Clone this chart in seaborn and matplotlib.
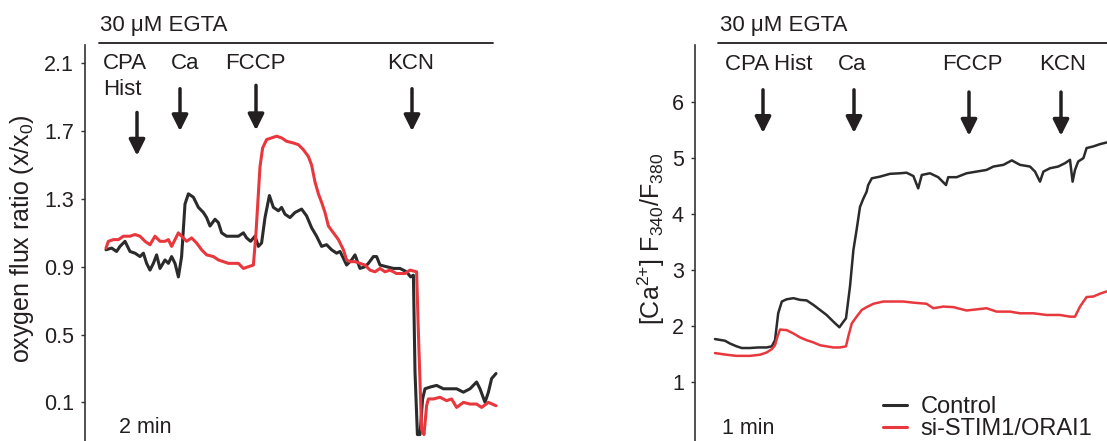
import numpy as np
import pandas as pd
import matplotlib
matplotlib.use("Agg")
import matplotlib.pyplot as plt
import seaborn as sns
from matplotlib.lines import Line2D

# ---------------- data ----------------
# Left panel: oxygen flux ratio (x/x0) vs time (min)
ox_ctrl_t = [0.00, 0.28, 0.53, 0.70, 0.95, 1.20, 1.45, 1.70, 1.87, 2.03, 2.20, 2.37, 2.53, 2.70,
             2.95, 3.12, 3.28, 3.45, 3.62, 3.78, 3.95, 4.12, 4.37, 4.62, 4.87, 5.03, 5.20, 5.45,
             5.62, 5.78, 6.03, 6.37, 6.62, 6.87, 7.03, 7.23, 7.45, 7.62, 7.78, 7.95, 8.17, 8.37,
             8.62, 8.78, 8.95, 9.20, 9.45, 9.78, 10.03, 10.28, 10.53, 10.78, 11.03, 11.28, 11.53,
             11.70, 11.87, 12.03, 12.28, 12.45, 12.70, 12.95, 13.12, 13.37, 13.53, 13.70, 14.03,
             14.37, 14.70, 15.03, 15.23, 15.37, 15.45, 15.57, 15.70, 15.83, 15.95, 16.20, 16.53,
             16.87, 17.20, 17.53, 17.87, 18.20, 18.53, 18.70, 18.95, 19.12, 19.28, 19.50]
ox_ctrl_v = [1.00, 1.01, 0.99, 1.02, 1.05, 0.99, 0.98, 0.96, 0.98, 0.92, 0.88, 0.92, 0.97, 0.89,
             0.94, 0.92, 0.96, 0.92, 0.84, 0.96, 1.27, 1.33, 1.31, 1.25, 1.22, 1.19, 1.14, 1.18,
             1.16, 1.10, 1.08, 1.08, 1.08, 1.10, 1.07, 1.05, 1.08, 1.02, 1.04, 1.19, 1.32, 1.25,
             1.23, 1.25, 1.21, 1.19, 1.22, 1.24, 1.20, 1.13, 1.08, 1.02, 1.03, 1.00, 0.98,
             0.99, 0.95, 0.91, 0.94, 0.97, 0.89, 0.90, 0.92, 0.96, 0.96, 0.91, 0.90,
             0.89, 0.89, 0.87, 0.84, 0.85, 0.28, -0.09, -0.09, 0.12, 0.18, 0.19, 0.20,
             0.18, 0.18, 0.18, 0.16, 0.18, 0.22, 0.18, 0.10, 0.16, 0.24, 0.27]

ox_si_t = [0.00, 0.12, 0.37, 0.62, 0.87, 1.20, 1.45, 1.70, 1.95, 2.20, 2.45, 2.70, 2.95, 3.12,
           3.28, 3.45, 3.62, 3.78, 4.03, 4.28, 4.53, 4.78, 5.03, 5.37, 5.62, 5.87, 6.12, 6.37,
           6.62, 6.87, 7.12, 7.37, 7.50, 7.70, 7.83, 8.03, 8.28, 8.53, 8.78, 9.03, 9.37, 9.62,
           9.87, 10.12, 10.28, 10.45, 10.62, 10.78, 10.95, 11.12, 11.37, 11.62, 11.87, 12.03,
           12.20, 12.45, 12.70, 12.95, 13.20, 13.45, 13.70, 13.95, 14.20, 14.53, 14.95, 15.20,
           15.53, 15.62, 15.78, 15.90, 16.03, 16.12, 16.37, 16.70, 17.03, 17.28, 17.53, 17.87,
           18.20, 18.53, 18.78, 19.12, 19.50]
ox_si_v = [1.01, 1.05, 1.06, 1.06, 1.08, 1.08, 1.09, 1.08, 1.05, 1.03, 1.08, 1.05, 1.05, 1.06,
           1.02, 1.06, 1.10, 1.08, 1.05, 1.07, 1.04, 1.00, 0.97, 0.96, 0.94, 0.93, 0.92, 0.92,
           0.92, 0.89, 0.90, 0.91, 1.10, 1.49, 1.60, 1.65, 1.66, 1.67, 1.66, 1.64, 1.63, 1.62,
           1.59, 1.55, 1.50, 1.40, 1.33, 1.28, 1.22, 1.14, 1.10, 1.06, 1.00, 0.94,
           0.93, 0.93, 0.92, 0.91, 0.88, 0.87, 0.89, 0.87, 0.88, 0.86, 0.86, 0.88,
           0.87, 0.51, -0.06, -0.09, 0.08, 0.12, 0.12, 0.13, 0.11, 0.12, 0.07, 0.10,
           0.09, 0.09, 0.07, 0.10, 0.08]

# Right panel: [Ca2+] F340/F380 vs time (min)
ca_ctrl_t = [0.00, 0.25, 0.375, 0.54, 0.67, 0.875, 1.08, 1.29, 1.42, 1.50, 1.58, 1.67, 1.79,
             1.96, 2.125, 2.29, 2.46, 2.625, 2.79, 2.96, 3.11, 3.21, 3.275, 3.375, 3.46, 3.54,
             3.625, 3.71, 3.79, 3.83, 3.92, 4.125, 4.375, 4.625, 4.79, 4.96, 5.08, 5.17,
             5.375, 5.58, 5.775, 5.83, 6.04, 6.29, 6.54, 6.79, 6.96, 7.21, 7.42, 7.625,
             7.875, 8.00, 8.125, 8.21, 8.375, 8.58, 8.75, 8.875, 8.94, 9.00, 9.08, 9.21,
             9.29, 9.46, 9.625, 9.79]
ca_ctrl_v = [1.76, 1.73, 1.68, 1.63, 1.60, 1.60, 1.61, 1.61, 1.63, 1.74, 2.22, 2.43, 2.47,
             2.49, 2.46, 2.45, 2.37, 2.28, 2.19, 2.07, 1.97, 2.07, 2.13, 2.70, 3.35, 3.71,
             4.12, 4.27, 4.39, 4.51, 4.63, 4.66, 4.71, 4.72, 4.73, 4.67, 4.45, 4.69,
             4.72, 4.65, 4.51, 4.65, 4.65, 4.72, 4.75, 4.78, 4.84, 4.87, 4.95, 4.87,
             4.84, 4.75, 4.57, 4.75, 4.81, 4.84, 4.90, 4.96, 4.57, 4.78, 4.93, 4.99,
             5.17, 5.20, 5.24, 5.27]

ca_si_t = [0.00, 0.29, 0.54, 0.875, 1.125, 1.29, 1.42, 1.50, 1.56, 1.625, 1.79, 1.96, 2.125,
           2.29, 2.46, 2.625, 2.79, 2.96, 3.125, 3.275, 3.33, 3.42, 3.54, 3.67, 3.79, 3.96,
           4.21, 4.46, 4.71, 4.96, 5.29, 5.46, 5.71, 5.96, 6.29, 6.54, 6.79, 7.04, 7.375,
           7.625, 7.96, 8.29, 8.625, 8.875, 9.00, 9.125, 9.29, 9.46, 9.625, 9.79]
ca_si_v = [1.51, 1.48, 1.46, 1.46, 1.48, 1.52, 1.58, 1.65, 1.80, 1.93, 1.92, 1.86, 1.79,
           1.74, 1.70, 1.65, 1.63, 1.61, 1.61, 1.63, 1.80, 2.04, 2.16, 2.28, 2.33, 2.39,
           2.43, 2.43, 2.43, 2.41, 2.39, 2.31, 2.34, 2.33, 2.27, 2.29, 2.31, 2.25, 2.25,
           2.22, 2.22, 2.19, 2.19, 2.16, 2.16, 2.34, 2.51, 2.52, 2.57, 2.61]

group_names = ["Control", "si-STIM1/ORAI1"]
group_colors = ["#2b2b2b", "#e8383d"]

# drug additions: (label, time of arrow)
ox_events = [("CPA\nHist", 1.55), ("Ca", 3.70), ("FCCP", 7.50), ("KCN", 15.30)]
ca_events = [("CPA Hist", 1.20), ("Ca", 3.475), ("FCCP", 6.35), ("KCN", 8.65)]

ox_ticks = [0.1, 0.5, 0.9, 1.3, 1.7, 2.1]
ca_ticks = [1, 2, 3, 4, 5, 6]

# ---------------- style ----------------
sns.set_theme(style="ticks")
plt.rcParams["font.family"] = ["Liberation Sans", "DejaVu Sans"]
plt.rcParams["mathtext.default"] = "regular"
INK = "#231f20"

ox_df = pd.concat([
    pd.DataFrame({"t": ox_ctrl_t, "v": ox_ctrl_v, "group": group_names[0]}),
    pd.DataFrame({"t": ox_si_t, "v": ox_si_v, "group": group_names[1]}),
])
ca_df = pd.concat([
    pd.DataFrame({"t": ca_ctrl_t, "v": ca_ctrl_v, "group": group_names[0]}),
    pd.DataFrame({"t": ca_si_t, "v": ca_si_v, "group": group_names[1]}),
])
palette = dict(zip(group_names, group_colors))

W, H = 1107, 441
fig = plt.figure(figsize=(W / 100, H / 100), dpi=100)
ax1 = fig.add_axes([85 / W, 0, (500 - 85) / W, 396 / H])
ax2 = fig.add_axes([695 / W, 0, (W - 695) / W, 396 / H])

sns.lineplot(data=ox_df, x="t", y="v", hue="group", palette=palette, estimator=None,
             sort=False, linewidth=2.2, legend=False, ax=ax1)
sns.lineplot(data=ca_df, x="t", y="v", hue="group", palette=palette, estimator=None,
             sort=False, linewidth=1.8, legend=False, ax=ax2)


def style_axis(ax, xlim, ylim, ticks, ticklabels, ylabel, label_x):
    ax.set_xlim(*xlim)
    ax.set_ylim(*ylim)
    for s in ("top", "right", "bottom"):
        ax.spines[s].set_visible(False)
    ax.spines["left"].set_linewidth(1.2)
    ax.spines["left"].set_color("#333333")
    ax.set_xticks([])
    ax.set_xlabel("")
    ax.set_yticks(ticks)
    ax.set_yticklabels(ticklabels)
    ax.tick_params(axis="y", direction="out", length=3, width=1.0, color="#333333",
                   labelsize=15.5, labelcolor=INK, pad=5)
    ax.set_ylabel(ylabel, fontsize=18, color=INK)
    ax.yaxis.set_label_coords(label_x, 0.51)
    ax.patch.set_alpha(0)


style_axis(ax1, (-1.05, 19.7), (-0.128, 2.208), ox_ticks, [f"{t:.1f}" for t in ox_ticks],
           "oxygen flux ratio (x/x$_0$)", -0.118)
style_axis(ax2, (-0.5, 9.8), (-0.06, 7.01), ca_ticks, [str(t) for t in ca_ticks],
           "[Ca$^{2{+}}$] F$_{340}$/F$_{380}$", -0.068)


def draw_arrow(ax, x, y_tail, y_tip):
    ax.annotate("", xy=(x, y_tip), xytext=(x, y_tail),
                arrowprops=dict(arrowstyle="-|>", lw=2.5, color=INK, mutation_scale=24,
                                shrinkA=0, shrinkB=0))


# EGTA bars
for ax, x0, x1, tx in [(ax1, -0.35, 19.35, -0.3), (ax2, 0.075, 9.8, 0.125)]:
    trans = ax.get_xaxis_transform()
    ax.plot([x0, x1], [1.005, 1.005], transform=trans, color=INK, lw=1.3, clip_on=False)
    ax.text(tx, 1.048, "30 μM EGTA", transform=trans, fontsize=16, color=INK,
            ha="left", va="center", clip_on=False)

# Left panel event labels and arrows
ax1.text(-0.15, 2.10, "CPA", fontsize=16, color=INK, ha="left", va="center")
ax1.text(-0.15, 1.945, "Hist", fontsize=16, color=INK, ha="left", va="center")
ax1.text(3.95, 2.10, "Ca", fontsize=16, color=INK, ha="center", va="center")
ax1.text(7.45, 2.10, "FCCP", fontsize=16, color=INK, ha="center", va="center")
ax1.text(15.25, 2.10, "KCN", fontsize=16, color=INK, ha="center", va="center")
ox_arrow_y = [(1.81, 1.555), (1.95, 1.70), (1.97, 1.705), (1.95, 1.70)]
for (name, t), (y0, y1) in zip(ox_events, ox_arrow_y):
    draw_arrow(ax1, t, y0, y1)
ax1.text(0.65, -0.046, "2 min", fontsize=15.5, color=INK, ha="left", va="center")

# Right panel event labels and arrows
ax2.text(0.25, 6.67, "CPA Hist", fontsize=16, color=INK, ha="left", va="center")
ax2.text(3.43, 6.67, "Ca", fontsize=16, color=INK, ha="center", va="center")
ax2.text(6.43, 6.67, "FCCP", fontsize=16, color=INK, ha="center", va="center")
ax2.text(8.68, 6.67, "KCN", fontsize=16, color=INK, ha="center", va="center")
ca_arrow_y = [(6.21, 5.44), (6.21, 5.44), (6.17, 5.39), (6.17, 5.39)]
for (name, t), (y0, y1) in zip(ca_events, ca_arrow_y):
    draw_arrow(ax2, t, y0, y1)
ax2.text(0.175, 0.17, "1 min", fontsize=15.5, color=INK, ha="left", va="center")

# Legend
handles = [Line2D([], [], color=c, lw=2.2) for c in group_colors]
leg = ax2.legend(handles, group_names, loc="lower right", bbox_to_anchor=(1.005, -0.04),
                 frameon=False, fontsize=17, handlelength=1.0, handletextpad=0.6,
                 labelspacing=0.0, borderpad=0.2)
for txt in leg.get_texts():
    txt.set_color(INK)

fig.savefig("out.png", dpi=100)
